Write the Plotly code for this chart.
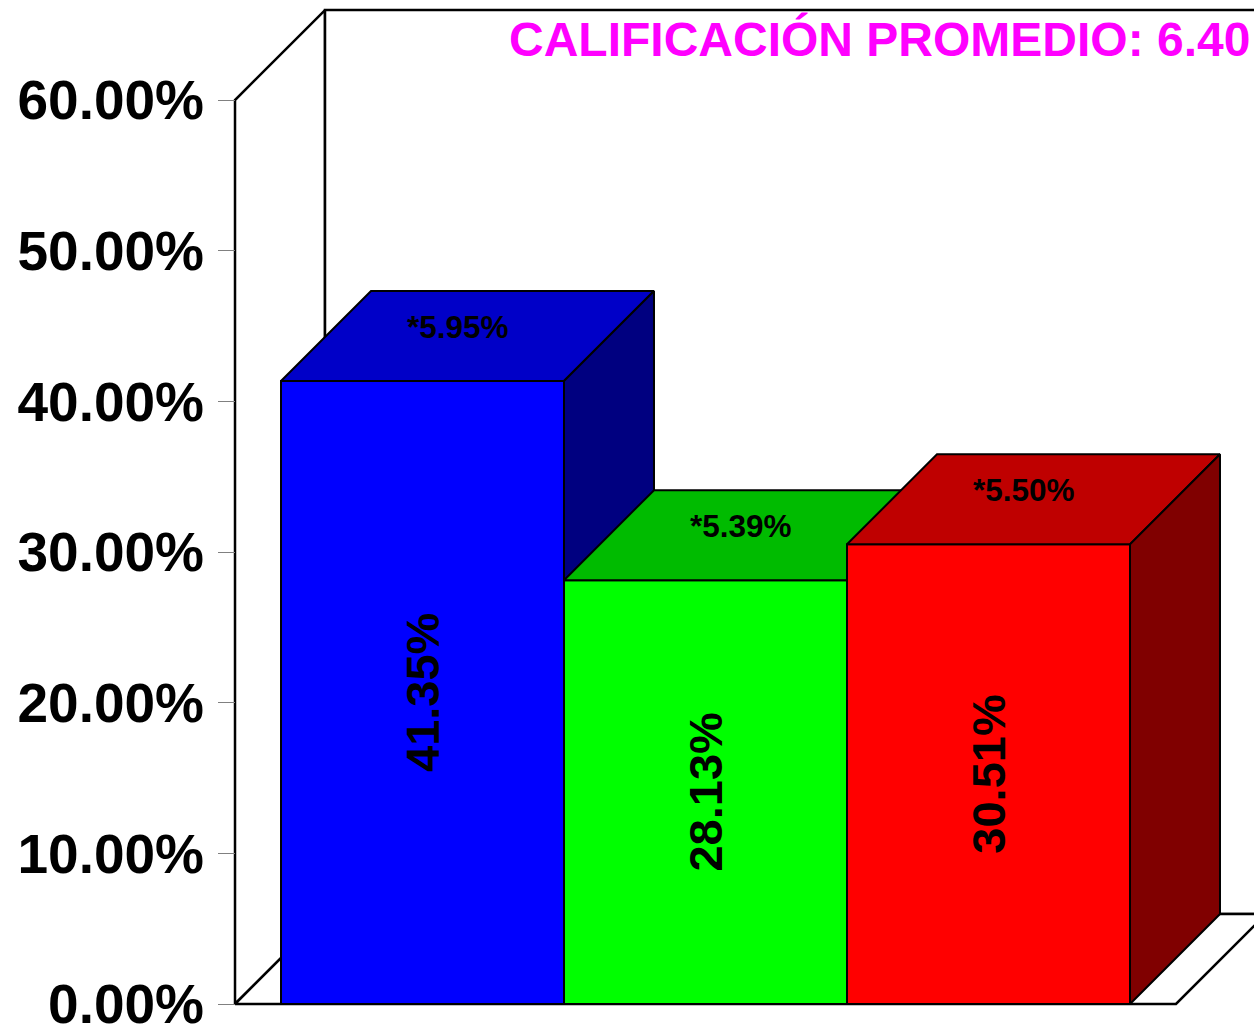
import plotly.graph_objects as go

# ---------------- data ----------------
categories = ["A", "B", "C"]
values = [41.35, 28.13, 30.51]
top_labels = ["*5.95%", "*5.39%", "*5.50%"]
tick_values = [0, 10, 20, 30, 40, 50, 60]
tick_labels = ["0.00%", "10.00%", "20.00%", "30.00%", "40.00%", "50.00%", "60.00%"]
title_text = "CALIFICACIÓN PROMEDIO: 6.40"

front_colors = ["#0000FF", "#00FF00", "#FF0000"]
top_colors = ["#0000C8", "#00BB00", "#BF0000"]
side_colors = ["#000080", "#008000", "#800000"]

# ---------------- style / geometry constants ----------------
W, H = 1254, 1027
FONT = "Liberation Sans, Arial, sans-serif"
GAP = 0.1625          # gap between wall and outer bars (in bar widths)
DX = 0.318            # 3D depth along x (bar widths)
DY = 5.973            # 3D depth along y (percent units)
X_RANGE = [-1.49293, 2.93816]
Y_RANGE = [-1.52655, 66.6372]
LW = 2

n = len(values)
xl = -0.5 - GAP
xr = n - 0.5 + GAP
ytop = max(tick_values)

fig = go.Figure()


def poly(xs, ys, fill, lw=LW):
    fig.add_trace(go.Scatter(
        x=list(xs) + [xs[0]], y=list(ys) + [ys[0]],
        mode="lines", fill="toself", fillcolor=fill,
        line=dict(color="black", width=lw),
        hoverinfo="skip", showlegend=False))


# walls & floor
poly([xl, xl, xl + DX, xl + DX], [0, ytop, ytop + DY, DY], "white", 2.5)
poly([xl + DX, xl + DX, xr + DX, xr + DX], [DY, ytop + DY, ytop + DY, DY], "white", 2.5)
poly([xl, xr, xr + DX, xl + DX], [0, 0, DY, DY], "white", 2.5)

# bars (painter's order, left to right)
for i, v in enumerate(values):
    a, b = i - 0.5, i + 0.5
    poly([a, b, b, a], [0, 0, v, v], front_colors[i])
    poly([a, b, b + DX, a + DX], [v, v, v + DY, v + DY], top_colors[i])
    poly([b, b + DX, b + DX, b], [0, DY, v + DY, v], side_colors[i])

annotations = []
for i, v in enumerate(values):
    annotations.append(dict(
        x=i, y=v / 2, xref="x", yref="y", text=f"{v:.2f}%",
        textangle=-90, showarrow=False,
        font=dict(family=FONT, size=47, color="black", weight="bold")))
    annotations.append(dict(
        x=i + DX / 2, y=v + DY / 2, xref="x", yref="y", text=top_labels[i],
        showarrow=False, xshift=-10, yshift=9,
        font=dict(family=FONT, size=31.5, color="black", weight="bold")))

annotations.append(dict(
    x=1, y=1 - 39 / H, xref="paper", yref="paper", xanchor="right", yanchor="middle",
    text=title_text, showarrow=False, xshift=-2,
    font=dict(family=FONT, size=48, color="#FF00FF", weight="bold")))

ypos = (xl - X_RANGE[0]) / (X_RANGE[1] - X_RANGE[0])

fig.update_layout(
    width=W, height=H,
    margin=dict(l=0, r=0, t=0, b=0),
    paper_bgcolor="white", plot_bgcolor="white",
    showlegend=False,
    annotations=annotations,
    xaxis=dict(range=X_RANGE, visible=False, fixedrange=True),
    yaxis=dict(
        range=Y_RANGE, anchor="free", position=ypos,
        tickmode="array", tickvals=tick_values, ticktext=tick_labels,
        ticks="outside", ticklen=17, tickwidth=1, tickcolor="#808080",
        ticklabelstandoff=3, ticklabeloverflow="allow",
        showline=False, showgrid=False, zeroline=False, automargin=False,
        tickfont=dict(family=FONT, size=55, color="black", weight="bold"),
        fixedrange=True),
)

fig.write_html(
    "out.html",
    config={"displayModeBar": False, "responsive": False},
    post_script="document.body.style.margin='0';document.body.style.overflow='hidden';",
)
